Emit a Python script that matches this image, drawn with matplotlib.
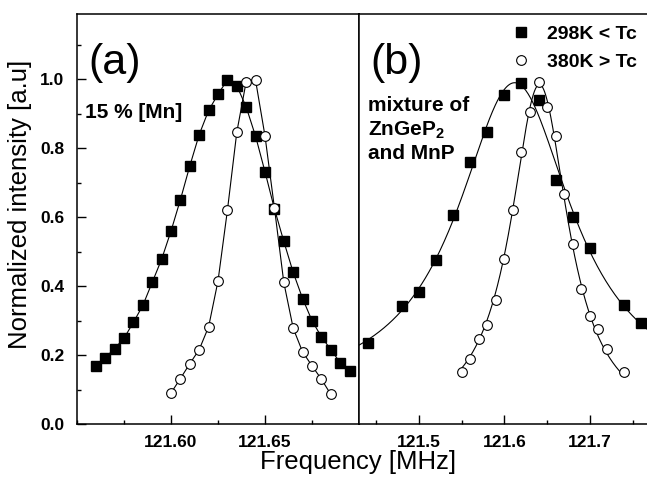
import numpy as np
import matplotlib
matplotlib.use("Agg")
import matplotlib.pyplot as plt
from matplotlib.ticker import MultipleLocator, FormatStrFormatter

plt.rcParams['font.family'] = ['Liberation Sans', 'DejaVu Sans']
plt.rcParams['mathtext.fontset'] = 'custom'
plt.rcParams['mathtext.rm'] = 'Liberation Sans'
plt.rcParams['mathtext.bf'] = 'Liberation Sans:bold'

# panel (a): 15 % Mn, points joined by straight lines
a_sq_x = [121.560, 121.565, 121.570, 121.575, 121.580, 121.585, 121.590, 121.595,
          121.600, 121.605, 121.610, 121.615, 121.620, 121.625, 121.630, 121.635,
          121.640, 121.645, 121.650, 121.655, 121.660, 121.665, 121.670, 121.675,
          121.680, 121.685, 121.690, 121.695]
a_sq_y = [0.168, 0.192, 0.219, 0.249, 0.295, 0.344, 0.411, 0.478,
          0.560, 0.651, 0.749, 0.840, 0.910, 0.957, 0.999, 0.982,
          0.920, 0.835, 0.732, 0.625, 0.530, 0.440, 0.364, 0.300,
          0.253, 0.216, 0.178, 0.154]
a_ci_x = [121.600, 121.605, 121.610, 121.615, 121.620, 121.625, 121.630, 121.635,
          121.640, 121.645, 121.650, 121.655, 121.660, 121.665, 121.670, 121.675,
          121.680, 121.685]
a_ci_y = [0.090, 0.132, 0.175, 0.216, 0.282, 0.415, 0.620, 0.847,
          0.994, 0.997, 0.836, 0.628, 0.411, 0.278, 0.209, 0.169,
          0.130, 0.086]

# panel (b): mixture of ZnGeP2 and MnP, with lorentzian fits
b_sq_x = [121.44, 121.48, 121.50, 121.52, 121.54, 121.56, 121.58, 121.60,
          121.62, 121.64, 121.66, 121.68, 121.70, 121.74, 121.76]
b_sq_y = [0.236, 0.342, 0.383, 0.475, 0.606, 0.760, 0.847, 0.956,
          0.989, 0.941, 0.707, 0.600, 0.512, 0.344, 0.292]
b_ci_x = [121.55, 121.56, 121.57, 121.58, 121.59, 121.60, 121.61, 121.62,
          121.63, 121.64, 121.65, 121.66, 121.67, 121.68, 121.69, 121.70,
          121.71, 121.72, 121.74]
b_ci_y = [0.152, 0.190, 0.248, 0.287, 0.361, 0.480, 0.620, 0.789,
          0.907, 0.994, 0.920, 0.836, 0.667, 0.521, 0.393, 0.313,
          0.276, 0.219, 0.150]

labels = ['298K < Tc', '380K > Tc']


def lorentz_fit(x, y):
    # brute force over centre/width, linear least squares for offset/amplitude
    x = np.asarray(x)
    y = np.asarray(y)
    best = None
    for xc in np.linspace(x.min(), x.max(), 120):
        for w in np.linspace(0.005, 0.2, 120):
            L = 1.0 / (1.0 + ((x - xc) / w) ** 2)
            M = np.column_stack([np.ones_like(L), L])
            coef = np.linalg.lstsq(M, y, rcond=None)[0]
            err = np.sum((M @ coef - y) ** 2)
            if best is None or err < best[0]:
                best = (err, xc, w, coef)
    _, xc, w, coef = best
    return lambda t: coef[0] + coef[1] / (1.0 + ((t - xc) / w) ** 2)


fig = plt.figure(figsize=(6.47, 4.78), dpi=100)
bottom = 1 - 424 / 478
height = 410 / 478
ax1 = fig.add_axes([77 / 647, bottom, 282 / 647, height])
ax2 = fig.add_axes([359 / 647, bottom, 290.7 / 647, height])

ax1.plot(a_sq_x, a_sq_y, color='black', lw=0.8, marker='s', ms=6.6,
         mfc='black', mec='black')
ax1.plot(a_ci_x, a_ci_y, color='black', lw=0.8, marker='o', ms=7,
         mfc='white', mec='black', mew=0.8)

fit_sq = lorentz_fit(b_sq_x, b_sq_y)
fit_ci = lorentz_fit(b_ci_x, b_ci_y)
t_sq = np.linspace(121.43, 121.77, 400)
t_ci = np.linspace(min(b_ci_x), max(b_ci_x), 300)
ax2.plot(t_sq, fit_sq(t_sq), color='black', lw=0.8)
ax2.plot(t_ci, fit_ci(t_ci), color='black', lw=0.8)
h1, = ax2.plot(b_sq_x, b_sq_y, ls='none', marker='s', ms=6.6,
               mfc='black', mec='black', label=labels[0])
h2, = ax2.plot(b_ci_x, b_ci_y, ls='none', marker='o', ms=7,
               mfc='white', mec='black', mew=0.8, label=labels[1])

for ax in (ax1, ax2):
    ax.set_ylim(0, 1.19)
    ax.tick_params(which='both', direction='in', top=False, right=False, width=1)
    ax.tick_params(which='major', length=6.5, labelsize=12.5)
    ax.tick_params(axis='x', which='major', pad=8)
    ax.tick_params(axis='y', which='major', pad=9)
    ax.tick_params(which='minor', length=3)
    for s in ax.spines.values():
        s.set_linewidth(1.1)

ax1.set_xlim(121.55, 121.70)
ax1.xaxis.set_minor_locator(MultipleLocator(0.025))
ax1.xaxis.set_major_formatter(FormatStrFormatter('%.2f'))
ax1.yaxis.set_major_locator(MultipleLocator(0.2))
ax1.yaxis.set_minor_locator(MultipleLocator(0.1))
ax1.yaxis.set_major_formatter(FormatStrFormatter('%.1f'))
ax1.set_xticks([121.60, 121.65])
for lab in ax1.get_xticklabels() + ax1.get_yticklabels():
    lab.set_fontweight('bold')

ax2.set_xlim(121.43, 121.77)
ax2.set_xticks([121.5, 121.6, 121.7])
ax2.xaxis.set_minor_locator(MultipleLocator(0.05))
ax2.xaxis.set_major_formatter(FormatStrFormatter('%.1f'))
ax2.tick_params(axis='y', which='both', left=False, labelleft=False)
ax2.spines['right'].set_visible(False)
for lab in ax2.get_xticklabels():
    lab.set_fontweight('bold')

ax1.set_ylabel('Normalized intensity [a.u]', fontsize=18.5)
ax1.yaxis.set_label_coords(-0.16, 0.535)
fig.text(358 / 647, 1 - 462 / 478, 'Frequency [MHz]', fontsize=18.5,
         ha='center', va='center')

ax1.text(0.04, 0.93, '(a)', transform=ax1.transAxes, fontsize=31,
         ha='left', va='top')
ax1.text(0.03, 0.76, '15 % [Mn]', transform=ax1.transAxes, fontsize=15,
         fontweight='bold', ha='left', va='center')
ax2.text(0.04, 0.93, '(b)', transform=ax2.transAxes, fontsize=31,
         ha='left', va='top')
ax2.text(0.03, 0.80, 'mixture of\nZnGeP$_\\mathbf{2}$\nand MnP',
         transform=ax2.transAxes, fontsize=15, fontweight='bold',
         ha='left', va='top', linespacing=1.25)

ax2.legend(handles=[h1, h2], loc='upper right', frameon=False,
           prop={'weight': 'bold', 'size': 14}, handlelength=1.0,
           handletextpad=0.8, borderaxespad=0.2, labelspacing=0.5,
           bbox_to_anchor=(0.995, 1.0))

fig.savefig('out.png', dpi=100)
